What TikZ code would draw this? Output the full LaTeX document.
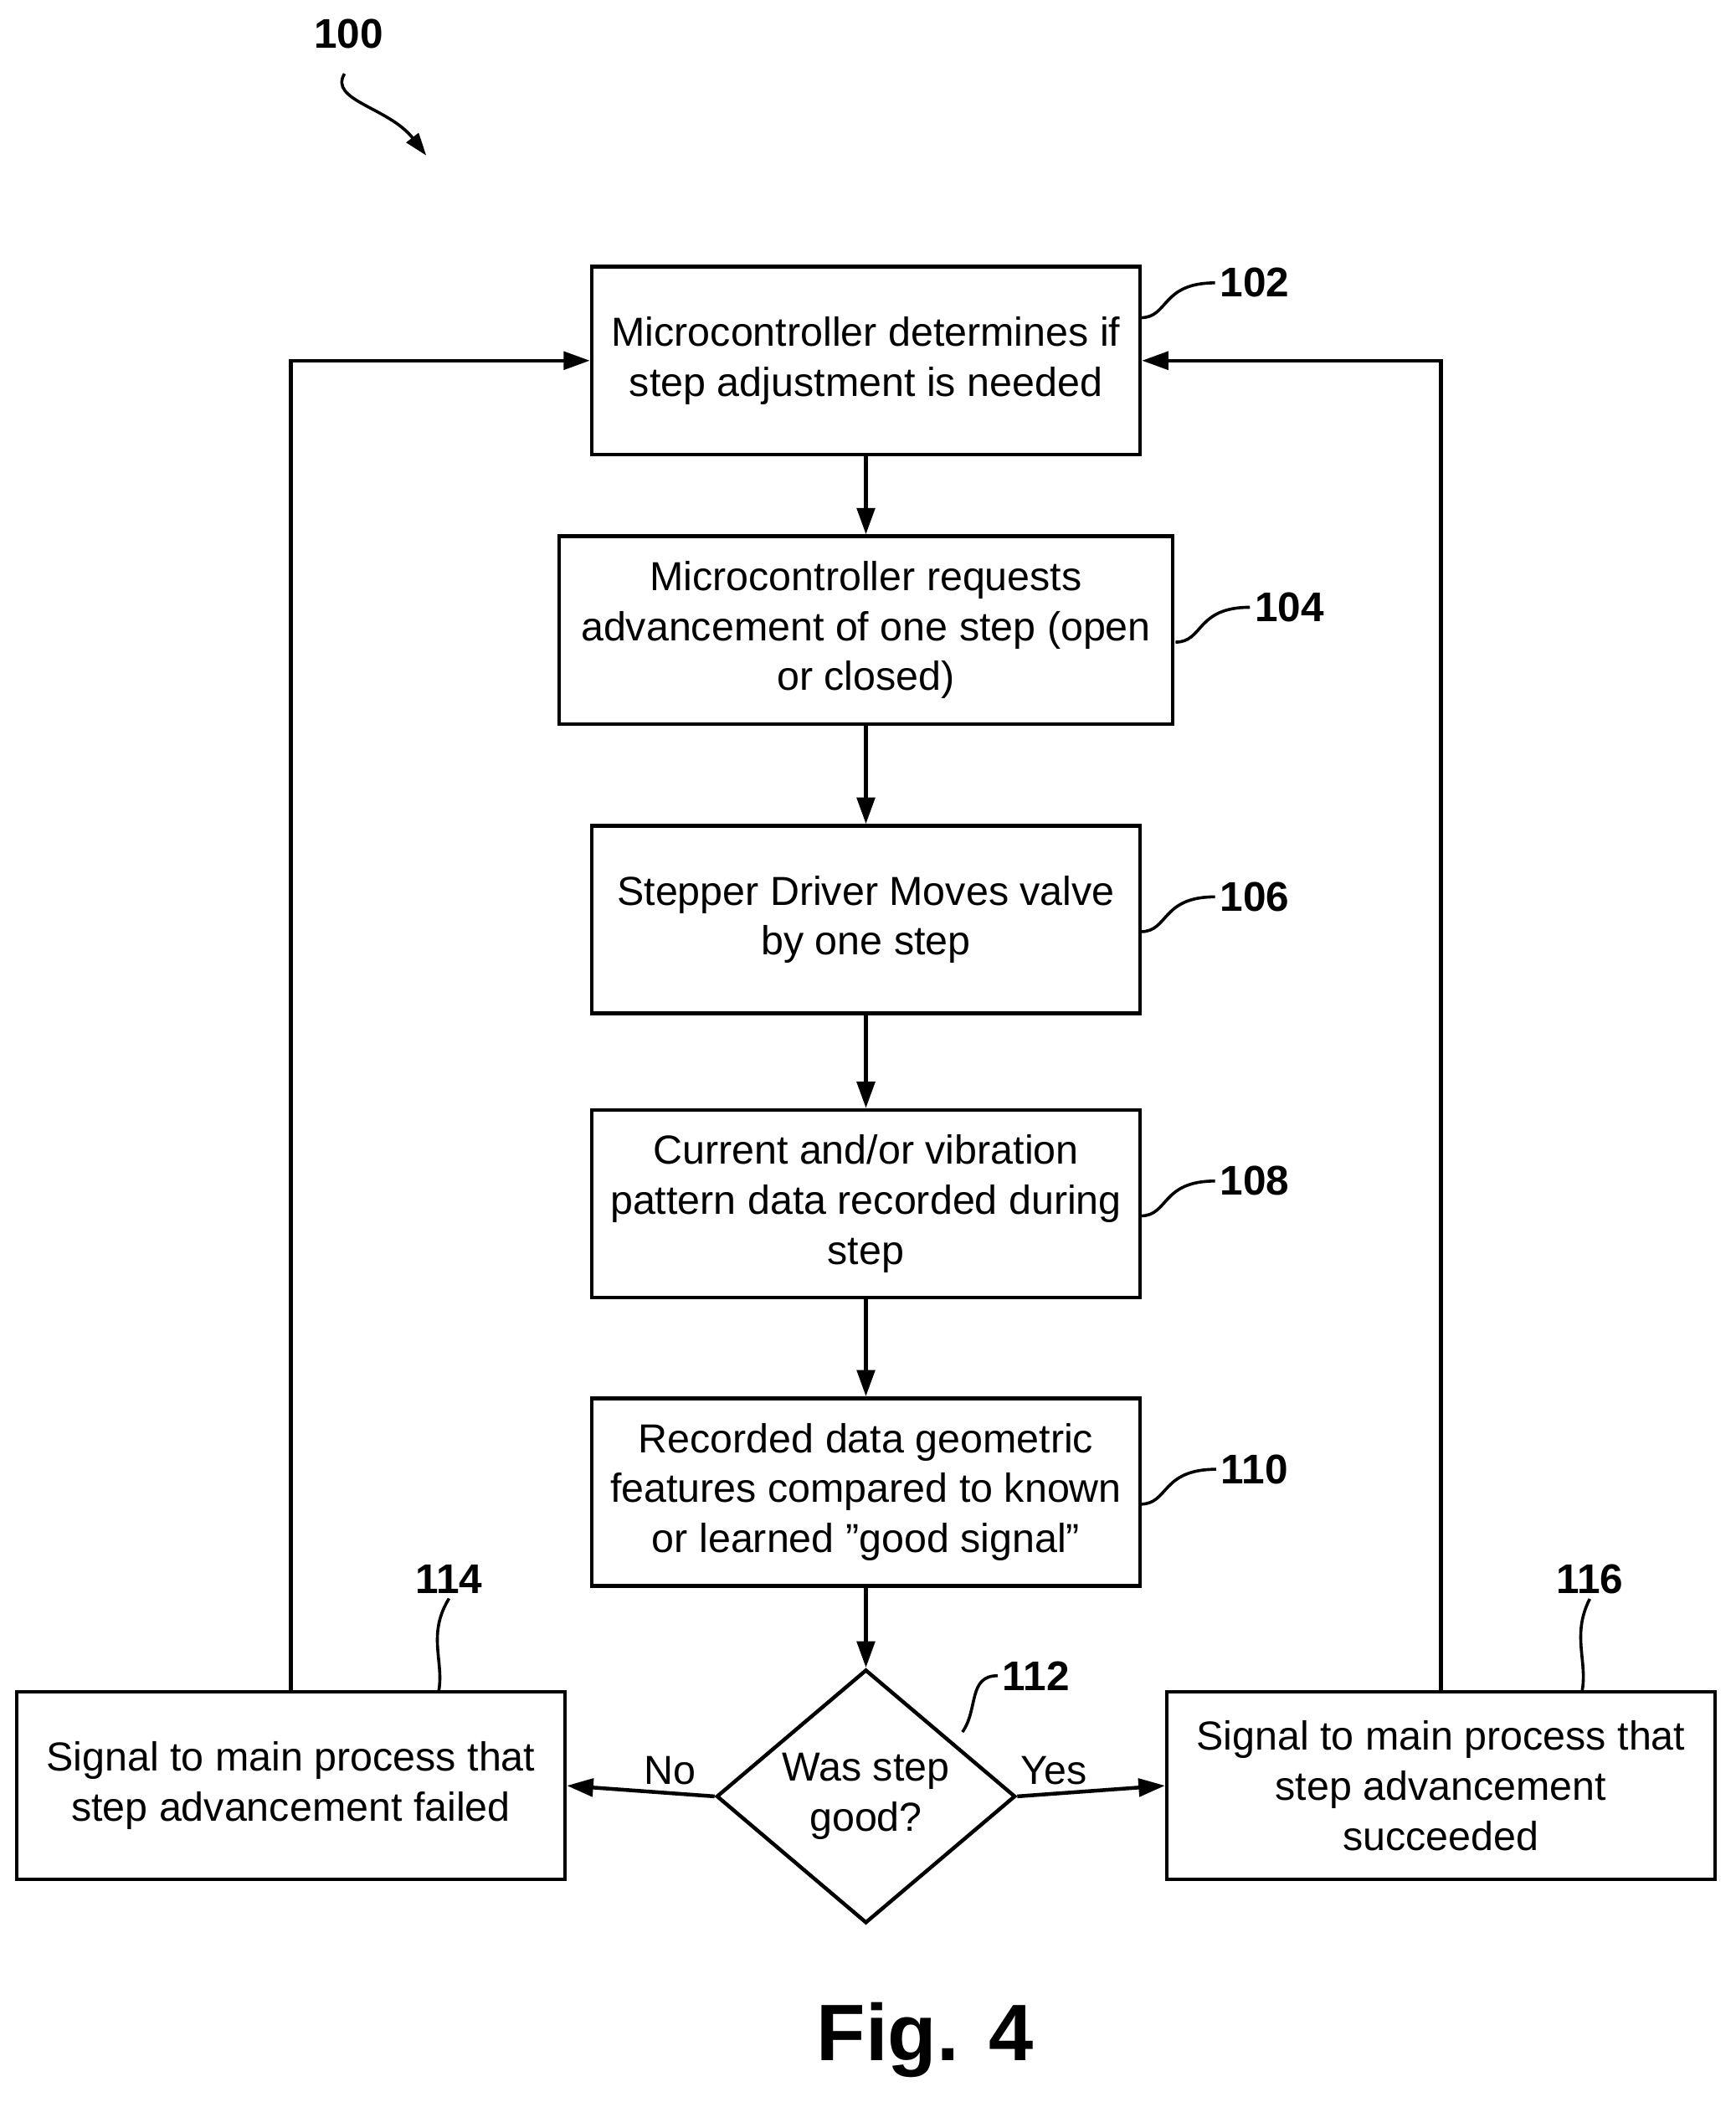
\documentclass[tikz,border=0pt]{standalone}
\usepackage{fontspec}
\setmainfont{Liberation Sans}
\usetikzlibrary{shapes.geometric,arrows.meta}
\begin{document}
\begin{tikzpicture}[x=0.05cm,y=-0.05cm,
 line width=4pt,
 box/.style={draw,rectangle,minimum width=409*0.05cm,minimum height=140*0.05cm,align=center,font=\fontsize{43}{53}\selectfont,inner sep=0pt},
 arr/.style={-{Triangle[length=28pt,width=19pt]}},
 lab/.style={font=\fontsize{44}{44}\selectfont\bfseries},
 sq/.style={line width=3.2pt}]
\useasboundingbox (0,0) rectangle (1295,1568);
\node[box] (b102) at (646,269) {Microcontroller determines if\\step adjustment is needed};
\node[box,minimum width=458*0.05cm] (b104) at (646,470) {Microcontroller requests\\advancement of one step (open\\or closed)};
\node[box] (b106) at (646,686) {Stepper Driver Moves valve\\by one step};
\node[box] (b108) at (646,898) {Current and/or vibration\\pattern data recorded during\\step};
\node[box] (b110) at (646,1113) {Recorded data geometric\\features compared to known\\or learned \symbol{34}good signal\symbol{34}};
\node[draw,diamond,minimum width=223*0.05cm,minimum height=167*0.05cm,inner sep=0pt,align=center,font=\fontsize{43}{53}\selectfont] (d112) at (646,1340) {Was step\\good?};
\path (646,1249) coordinate (dtop);
\node[box] (b114) at (217,1332) {Signal to main process that\\step advancement failed};
\node[box] (b116) at (1075,1332) {Signal to main process that\\step advancement\\succeeded};
\draw[arr] (b102) -- (b104);
\draw[arr] (b104) -- (b106);
\draw[arr] (b106) -- (b108);
\draw[arr] (b108) -- (b110);
\draw[arr] (b110) -- (d112);
\draw[arr] (d112.west) -- (b114.east) node[pos=0.3,above=4pt,font=\fontsize{43}{43}\selectfont]{No};
\draw[arr] (d112.east) -- (b116.west) node[pos=0.25,above=4pt,font=\fontsize{43}{43}\selectfont]{Yes};
\draw[arr] (b114.north) -- (217,269) -- (b102.west);
\draw[arr] (b116.north) -- (1075,269) -- (b102.east);
\node[lab] (l100) at (260,25) {100};
\node[lab] (l102) at (936,211) {102};
\node[lab] (l104) at (962,453) {104};
\node[lab] (l106) at (936,669) {106};
\node[lab] (l108) at (936,881) {108};
\node[lab] (l110) at (936,1096) {110};
\node[lab] (l112) at (773,1250) {112};
\node[lab] (l114) at (335,1178) {114};
\node[lab] (l116) at (1186,1178) {116};
\node[font=\fontsize{85}{85}\selectfont\bfseries] (fig) at (690,1522) {Fig. 4};
\coordinate (c100a) at (257,55); \coordinate (c100b) at (318,116);
\draw[sq,-{Triangle[length=24pt,width=16pt]}] (c100a) .. controls (245,75) and (290,80) .. (c100b);
\foreach \x/\y/\n in {851/225/102,877/467/104,851/683/106,851/895/108,851/1110/110}{
 \coordinate (s\n) at (\x,\y+12);
 \draw[sq] (s\n) .. controls (\x+21,\y+12) and (\x+15,\y-14) .. (l\n.west);}
\draw[sq] (718,1292) .. controls (730,1275) and (722,1250) .. (l112.west);
\draw[sq] (327,1263) .. controls (332,1240) and (318,1220) .. (l114.south);
\draw[sq] (1180,1263) .. controls (1185,1240) and (1172,1220) .. (l116.south);
\end{tikzpicture}
\end{document}
